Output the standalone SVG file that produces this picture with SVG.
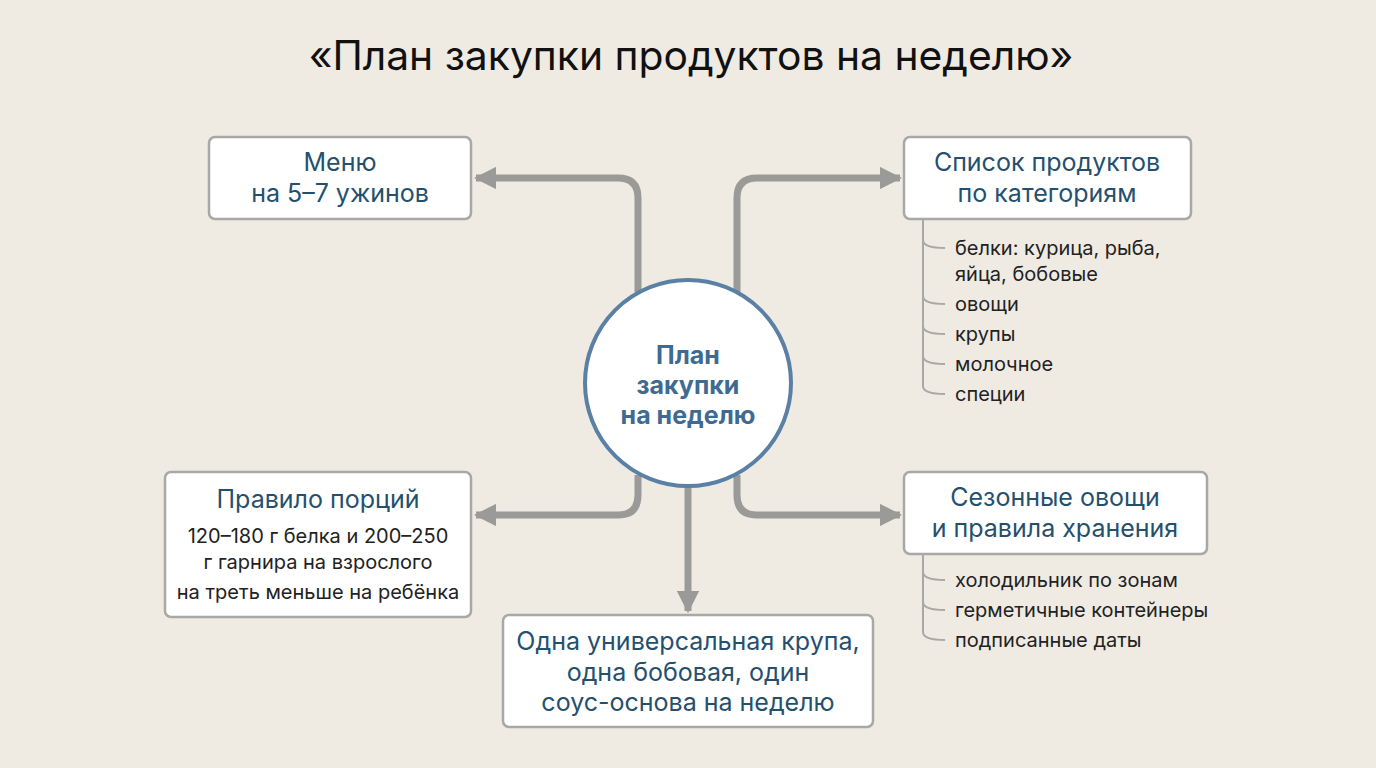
<svg xmlns="http://www.w3.org/2000/svg" width="1376" height="768" viewBox="0 0 1376 768">
<defs>
<marker id="ah" viewBox="0 0 10 10" refX="9" refY="5" markerWidth="3.2" markerHeight="3.2" orient="auto" markerUnits="strokeWidth"><path d="M0,0 L10,5 L0,10 z" fill="#9a9a98"/></marker>
<style>
text{font-family:Inter,"Noto Sans",sans-serif;}
.box{fill:#fff;stroke:#a8a8a6;stroke-width:2.5;}
.c{stroke:#9a9a98;stroke-width:7;fill:none;marker-end:url(#ah);}
.br{stroke:#a8a8a6;stroke-width:2;fill:none;}
.h{font-size:25px;fill:#24506e;text-anchor:middle;}
.t{font-size:20px;fill:#222;}
.tm{font-size:20px;fill:#222;text-anchor:middle;}
</style>
</defs>
<rect width="1376" height="768" fill="#efebe3"/>
<text x="691" y="70" font-size="40.8" fill="#111" text-anchor="middle">«План закупки продуктов на неделю»</text>
<g id="connectors">
<path class="c" d="M638,292 V198 Q638,178 618,178 H476"/>
<path class="c" d="M737,292 V198 Q737,178 757,178 H900"/>
<path class="c" d="M638,475 V495 Q638,515 618,515 H476"/>
<path class="c" d="M737,475 V495 Q737,515 757,515 H900"/>
<path class="c" d="M688,486 V611"/>
</g>
<g id="center">
<circle cx="688" cy="383" r="103" fill="#fff" stroke="#5a80a6" stroke-width="4"/>
<text class="h" font-weight="bold" font-size="25"><tspan x="688" y="364" fill="#3f6a92">План</tspan><tspan x="688" y="394" fill="#3f6a92">закупки</tspan><tspan x="688" y="424" fill="#3f6a92">на неделю</tspan></text>
</g>
<g id="menu">
<rect class="box" x="209" y="137" width="262" height="82" rx="6"/>
<text class="h"><tspan x="340" y="171">Меню</tspan><tspan x="340" y="202">на 5–7 ужинов</tspan></text>
</g>
<g id="list">
<rect class="box" x="904" y="137" width="287" height="82" rx="6"/>
<text class="h"><tspan x="1047" y="171">Список продуктов</tspan><tspan x="1047" y="202">по категориям</tspan></text>
<path class="br" d="M923,220 V240 Q923,248 945,248 M923,240 V296 Q923,304 945,304 M923,296 V326 Q923,334 945,334 M923,326 V356 Q923,364 945,364 M923,356 V386 Q923,394 945,394"/>
<text class="t"><tspan x="955" y="255">белки: курица, рыба,</tspan><tspan x="955" y="281">яйца, бобовые</tspan><tspan x="955" y="311">овощи</tspan><tspan x="955" y="341">крупы</tspan><tspan x="955" y="371">молочное</tspan><tspan x="955" y="401">специи</tspan></text>
</g>
<g id="portions">
<rect class="box" x="165" y="472" width="306" height="145" rx="6"/>
<text class="h" x="318" y="508">Правило порций</text>
<text class="tm"><tspan x="318" y="543">120–180 г белка и 200–250</tspan><tspan x="318" y="569">г гарнира на взрослого</tspan><tspan x="318" y="599">на треть меньше на ребёнка</tspan></text>
</g>
<g id="seasonal">
<rect class="box" x="904" y="472" width="303" height="82" rx="6"/>
<text class="h"><tspan x="1055" y="506">Сезонные овощи</tspan><tspan x="1055" y="537">и правила хранения</tspan></text>
<path class="br" d="M923,555 V572 Q923,580 945,580 M923,572 V602 Q923,610 945,610 M923,602 V632 Q923,640 945,640"/>
<text class="t"><tspan x="955" y="587">холодильник по зонам</tspan><tspan x="955" y="617">герметичные контейнеры</tspan><tspan x="955" y="647">подписанные даты</tspan></text>
</g>
<g id="grain">
<rect class="box" x="503" y="615" width="370" height="112" rx="6"/>
<text class="h"><tspan x="688" y="650">Одна универсальная крупа,</tspan><tspan x="688" y="681">одна бобовая, один</tspan><tspan x="688" y="711">соус-основа на неделю</tspan></text>
</g>
</svg>
